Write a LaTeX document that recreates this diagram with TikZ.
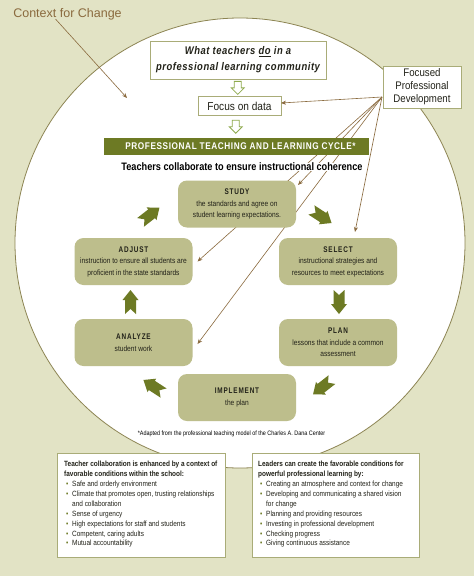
\documentclass[tikz,border=0pt]{standalone}
\usepackage{fontspec}
\setmainfont[FakeStretch=0.85]{Liberation Sans}
\newfontfamily\spcf[FakeStretch=0.78,LetterSpace=10]{Liberation Sans}
\newfontfamily\banf[FakeStretch=0.85,LetterSpace=6]{Liberation Sans}
\newfontfamily\whatf[FakeStretch=0.85,LetterSpace=5]{Liberation Sans}
\newfontfamily\ctxf{Liberation Sans}
\newfontfamily\midf[FakeStretch=0.88]{Liberation Sans}
\usetikzlibrary{arrows.meta,calc}
\definecolor{bgk}{HTML}{E2E3C5}
\definecolor{circ}{HTML}{8C8452}
\definecolor{bord}{HTML}{A9AC78}
\definecolor{cycf}{HTML}{BDBE8C}
\definecolor{olv}{HTML}{6D7A24}
\definecolor{brn}{HTML}{8A6A3E}
\definecolor{hol}{HTML}{8FAA4E}
\definecolor{txt}{HTML}{222219}
\newcommand\bl[1]{\hspace*{2pt}\makebox[6pt][l]{\textcolor{olv}{\textbullet}}#1}
\newcommand\cn[1]{\hspace*{8pt}#1}
\newcommand\cttl[1]{{\spcf\bfseries\fontsize{8.2}{11.5}\selectfont #1}}
\begin{document}
\begin{tikzpicture}[x=1pt,y=-1pt,
  conn/.style={brn, line width=0.6pt, -{Stealth[length=5pt,width=4pt]}},
  wbox/.style={draw=bord, fill=white, line width=0.9pt, inner sep=0pt, text=txt},
  cyc/.style={fill=cycf, rounded corners=9pt, minimum width=118pt, minimum height=47pt,
    align=center, inner sep=0pt, text=txt, font=\fontsize{7.8}{11.5}\selectfont},
  barrow/.pic={\fill[olv] (-12,-5.5) -- (2,-5.5) -- (2,-8) -- (12,0) -- (2,8) -- (2,5.5) -- (-12,5.5) -- (-7,0) -- cycle;},
  hdown/.pic={\draw[hol, line width=0.8pt, fill=white] (-3.5,-6.5) -- (3.5,-6.5) -- (3.5,0) -- (6.5,0) -- (0,6.5) -- (-6.5,0) -- (-3.5,0) -- cycle;}
]
\fill[bgk] (0,0) rectangle (474,576);
\useasboundingbox (0,0) rectangle (474,576);
\draw[circ, fill=white, line width=0.8pt] (240,243) circle[radius=225];

% context
\node[text=brn, font=\ctxf\fontsize{12.5}{14}\selectfont, inner sep=0pt] (ctx) at (67.5,14) {Context for Change};
\coordinate (ctxend) at (127,98);
\draw[conn] ($(ctx.south)+(-12,-1)$) -- (ctxend);

% connector end points
\coordinate (fpdo) at (382,97);
\coordinate (adjend) at (197.5,261.5);
\coordinate (anaend) at (197.5,344);
\coordinate (stuend) at (298,185);
\coordinate (selend) at (355,232);
\coordinate (focend) at (281,103);

% top boxes
\node[wbox, minimum width=176pt, minimum height=38pt, align=center,
  font=\whatf\bfseries\itshape\fontsize{11.1}{17}\selectfont] (what) at (238,60)
  {\raisebox{-2pt}{What teachers \underline{do} in a}\\\raisebox{-1pt}{professional learning community}};
\node[wbox, minimum width=83pt, minimum height=18.5pt, font=\midf\fontsize{11.5}{12}\selectfont] (focus) at (239.5,106) {Focus on data};
\node[wbox, minimum width=78pt, minimum height=42pt, align=center, font=\midf\fontsize{11}{13}\selectfont] (fpd) at (422,87)
  {\raisebox{-1.5pt}{Focused}\\\raisebox{-1.5pt}{Professional}\\\raisebox{-1.5pt}{Development}};
\draw[conn] (fpdo) -- (focend);
\draw[conn] (fpdo) -- (adjend);
\draw[conn] (fpdo) -- (anaend);
\draw[conn] (fpdo) -- (stuend);
\draw[conn] (fpdo) -- (selend);
\pic at ($(what.south)!0.5!(focus.north)+(-1,0)$) {hdown};
\node[fill=olv, minimum width=265pt, minimum height=17pt, inner sep=0pt, text=white,
  font=\banf\bfseries\fontsize{9.7}{11}\selectfont] (banner) at (236,146.5) {\hspace*{9pt}PROFESSIONAL TEACHING AND LEARNING CYCLE*};
\pic at ($(focus.south)!0.5!(banner.north)+(-2,0)$) {hdown};
\node[fill=white, text=black, font=\bfseries\fontsize{10.8}{12}\selectfont, inner sep=0.3pt] (collab) at (242,167) {Teachers collaborate to ensure instructional coherence};

% cycle boxes
\node[cyc] (study) at (237,204) {\cttl{STUDY}\\the standards and agree on\\student learning expectations.};
\node[cyc] (adjust) at (133.5,261.5) {\cttl{ADJUST}\\instruction to ensure all students are\\proficient in the state standards};
\node[cyc] (select) at (338,261.5) {\cttl{SELECT}\\instructional strategies and\\resources to meet expectations};
\node[cyc] (analyze) at (133.5,342.5) {\cttl{ANALYZE}\\student work};
\node[cyc] (plan) at (338,342.5) {\cttl{PLAN}\\lessons that include a common\\assessment};
\node[cyc] (implement) at (237,397.5) {\cttl{IMPLEMENT}\\the plan};

% block arrows
\pic[rotate=38] at (150,215) {barrow};
\pic[rotate=-33] at (321.5,216.5) {barrow};
\pic[rotate=-90] at (339,302) {barrow};
\pic[rotate=-142] at (322.5,387) {barrow};
\pic[rotate=147] at (153.5,386.5) {barrow};
\pic[rotate=90] at (130.5,302) {barrow};

\node[text=black, font=\fontsize{6.4}{7}\selectfont, inner sep=0pt] (note) at (231.5,434) {*Adapted from the professional teaching model of the Charles A. Dana Center};

% bottom boxes
\node[wbox, minimum width=168pt, minimum height=104pt, anchor=north west] (lbox) at (57,453) {};
\node[wbox, minimum width=167pt, minimum height=104pt, anchor=north west] (rbox) at (252,453) {};
\node[anchor=north west, inner sep=0pt, align=left, text=txt, font=\fontsize{7.6}{9.9}\selectfont] (ltext) at ($(lbox.north west)+(7,8)$)
 {{\bfseries Teacher collaboration is enhanced by a context of}\\
  {\bfseries favorable conditions within the school:}\\
  \bl{Safe and orderly environment}\\
  \bl{Climate that promotes open, trusting relationships}\\
  \cn{and collaboration}\\
  \bl{Sense of urgency}\\
  \bl{High expectations for staff and students}\\
  \bl{Competent, caring adults}\\
  \bl{Mutual accountability}};
\node[anchor=north west, inner sep=0pt, align=left, text=txt, font=\fontsize{7.6}{9.9}\selectfont] (rtext) at ($(rbox.north west)+(6,8)$)
 {{\bfseries Leaders can create the favorable conditions for}\\
  {\bfseries powerful professional learning by:}\\
  \bl{Creating an atmosphere and context for change}\\
  \bl{Developing and communicating a shared vision}\\
  \cn{for change}\\
  \bl{Planning and providing resources}\\
  \bl{Investing in professional development}\\
  \bl{Checking progress}\\
  \bl{Giving continuous assistance}};
\end{tikzpicture}
\end{document}
